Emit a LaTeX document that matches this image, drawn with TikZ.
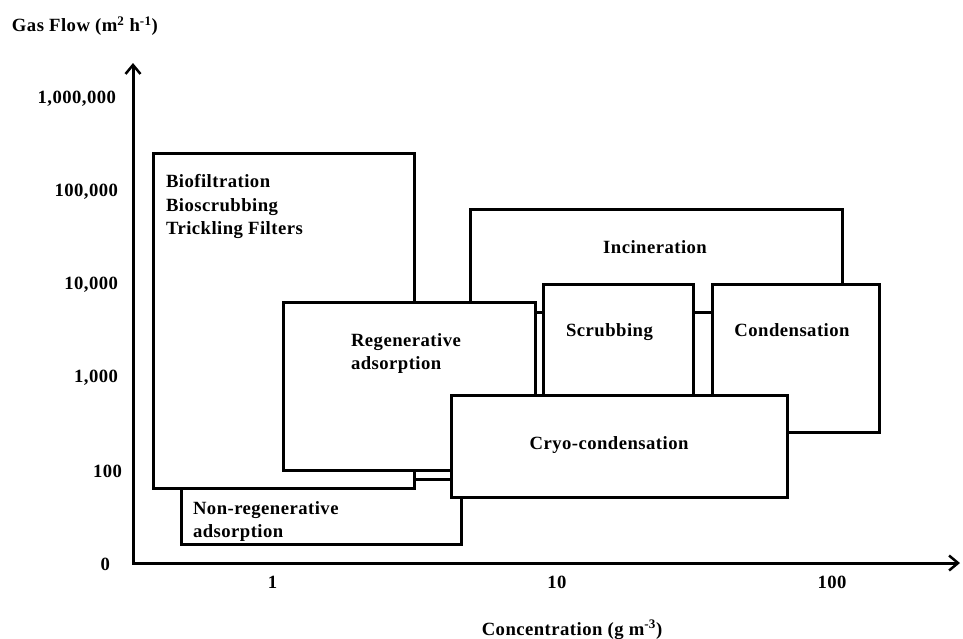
\documentclass[tikz,border=0pt]{standalone}
\usepackage{fontspec}
\setmainfont{Liberation Serif}[LetterSpace=2.5]
\usetikzlibrary{arrows.meta}
\begin{document}
\begin{tikzpicture}[x=1pt,y=-1pt,
  box/.style={draw=black, fill=white, line width=3pt, inner sep=0pt, outer sep=0pt, anchor=north west, rectangle},
  lbl/.style={font=\fontsize{18.67}{23.5}\selectfont\bfseries, inner sep=0pt, outer sep=0pt},
  axis/.style={line width=3pt, line join=miter},
]
\useasboundingbox (0,0) rectangle (963,638);
% axes
\coordinate (O) at (133,563);
\coordinate (ytop) at (133,63);
\coordinate (xend) at (960,563);
\draw[axis, {Straight Barb[length=9pt,width=15pt,line width=2.5pt]}-{Straight Barb[length=9pt,width=15pt,line width=2.5pt]}] (ytop) -- (O) -- (xend);

% boxes, back to front
\node[box, minimum width=280pt, minimum height=65pt] (nonregen) at (181,479) {};
\node[box, minimum width=261pt, minimum height=335pt] (bio) at (153,153) {};
\node[box, minimum width=372pt, minimum height=103pt] (incin) at (470,209) {};
\node[box, minimum width=252pt, minimum height=168pt] (regen) at (283,302) {};
\node[box, minimum width=150pt, minimum height=156pt] (scrub) at (543,284) {};
\node[box, minimum width=167pt, minimum height=148pt] (cond) at (712,284) {};
\node[box, minimum width=336pt, minimum height=102pt] (cryo) at (451,395) {};

% box texts
\node[lbl, align=left, anchor=north west] (biotxt) at (166,174.5) {Biofiltration\\Bioscrubbing\\Trickling Filters};
\node[lbl, align=left, anchor=north west] (nonregentxt) at (193,501.5) {Non-regenerative\\adsorption};
\node[lbl, align=left, anchor=north west] (regentxt) at (351,333.5) {Regenerative\\adsorption};
\node[lbl, anchor=base] (incintxt) at (655,253) {Incineration};
\node[lbl, anchor=base] (scrubtxt) at (609.5,336.5) {Scrubbing};
\node[lbl, anchor=base] (condtxt) at (792,336.5) {Condensation};
\node[lbl, anchor=base] (cryotxt) at (609,449) {Cryo-condensation};

% y tick labels
\node[lbl, anchor=base east] (y6) at (116,103.3) {1,000,000};
\node[lbl, anchor=base east] (y5) at (118,196.7) {100,000};
\node[lbl, anchor=base east] (y4) at (118,289.3) {10,000};
\node[lbl, anchor=base east] (y3) at (118,382.7) {1,000};
\node[lbl, anchor=base east] (y2) at (122,477) {100};
\node[lbl, anchor=base east] (y0) at (110,570) {0};

% x tick labels
\node[lbl, anchor=base] (x1) at (272.5,588) {1};
\node[lbl, anchor=base] (x10) at (557,588) {10};
\node[lbl, anchor=base] (x100) at (832,588) {100};

% axis titles
\node[lbl, anchor=base west] (ytitle) at (12,31.7) {Gas Flow (m\textsuperscript{2} h\textsuperscript{-1})};
\node[lbl, anchor=base] (xtitle) at (572,635) {Concentration (g m\textsuperscript{-3})};
\end{tikzpicture}
\end{document}
